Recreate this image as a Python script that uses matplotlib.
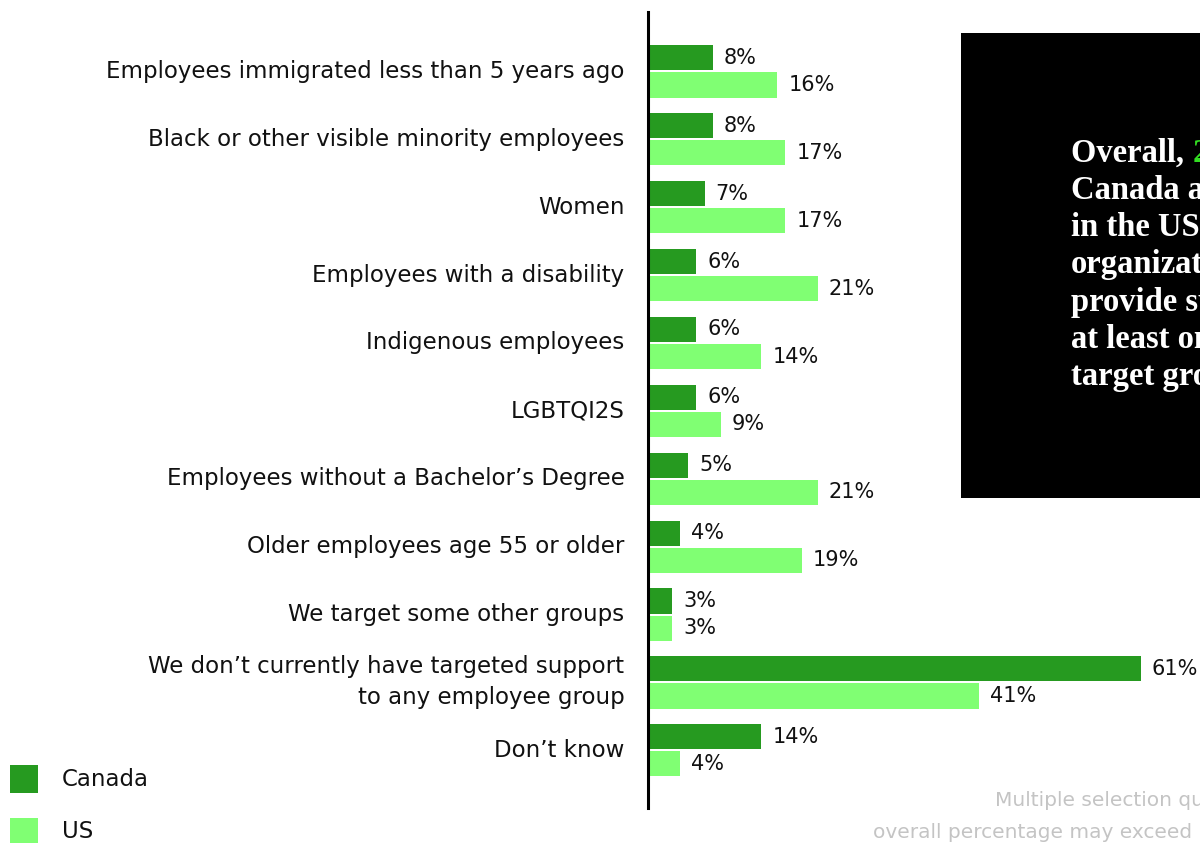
import matplotlib
matplotlib.use("Agg")
import matplotlib.pyplot as plt
from matplotlib.patches import Rectangle

categories = [
    "Employees immigrated less than 5 years ago",
    "Black or other visible minority employees",
    "Women",
    "Employees with a disability",
    "Indigenous employees",
    "LGBTQI2S",
    "Employees without a Bachelor\u2019s Degree",
    "Older employees age 55 or older",
    "We target some other groups",
    "We don\u2019t currently have targeted support\nto any employee group",
    "Don\u2019t know",
]
canada = [8, 8, 7, 6, 6, 6, 5, 4, 3, 61, 14]
us = [16, 17, 17, 21, 14, 9, 21, 19, 3, 41, 4]

CANADA_COLOR = "#269a20"
US_COLOR = "#80ff73"
FONT = "DejaVu Sans"

W, H = 1200, 843
fig = plt.figure(figsize=(W / 100, H / 100), dpi=100)
fig.patch.set_facecolor("white")

# bar axes: zero line at x=648 px, spans to the right edge
ax_left = 648 / W
ax = fig.add_axes([ax_left, 1 - 808 / H, 1 - ax_left, (808 - 12) / H])
ax.set_xlim(0, (W - 648) / 8.08)
ax.set_ylim(10.85, -0.876)

pos = list(range(len(categories)))
off = 0.2
h = 0.37
ax.barh([p - off for p in pos], canada, height=h, color=CANADA_COLOR)
ax.barh([p + off for p in pos], us, height=h, color=US_COLOR)

for p, c, u in zip(pos, canada, us):
    ax.annotate(f"{c}%", (c, p - off), xytext=(8, 0), textcoords="offset points",
                va="center", ha="left", fontsize=15, family=FONT, color="#111111")
    ax.annotate(f"{u}%", (u, p + off), xytext=(8, 0), textcoords="offset points",
                va="center", ha="left", fontsize=15, family=FONT, color="#111111")
    ax.annotate(categories[p], (0, p), xytext=(-17, 0), textcoords="offset points",
                va="center", ha="right", fontsize=16.5, family=FONT, color="#111111",
                linespacing=1.45, annotation_clip=False)

for s in ["top", "right", "bottom"]:
    ax.spines[s].set_visible(False)
ax.spines["left"].set_linewidth(2.2)
ax.spines["left"].set_color("black")
ax.set_xticks([])
ax.set_yticks([])
ax.patch.set_alpha(0)

# black callout box on the right
fig.patches.append(Rectangle((961 / W, 1 - 498 / H), (W - 961 + 50) / W, (498 - 33) / H,
                             transform=fig.transFigure, facecolor="black",
                             edgecolor="none", zorder=0))
box_lines = [
    ("Overall, ", "25%", " of organizations"),
    ("Canada and 44%", None, None),
    ("in the US say their", None, None),
    ("organizations", None, None),
    ("provide support to", None, None),
    ("at least one", None, None),
    ("target group.", None, None),
]
y0 = 153
for i, (a, g, b) in enumerate(box_lines):
    y = 1 - (y0 + i * 37.3) / H
    t = fig.text(1071 / W, y, a, color="white", fontsize=23.5, family="Liberation Serif",
                 weight="bold", va="center", ha="left")
    if g:
        fig.canvas.draw()
        bb = t.get_window_extent()
        fig.text(bb.x1 / W, y, g, color="#33dd22", fontsize=23.5, family="Liberation Serif",
                 weight="bold", va="center", ha="left")

# legend
for j, (lab, col) in enumerate([("Canada", CANADA_COLOR), ("US", US_COLOR)]):
    ytop = 765 + j * 53
    fig.patches.append(Rectangle((10 / W, 1 - (ytop + 28) / H), 28 / W, 28 / H,
                                 transform=fig.transFigure, facecolor=col,
                                 edgecolor="none"))
    fig.text(62 / W, 1 - (ytop + 14) / H, lab, fontsize=16.5, family=FONT,
             color="#111111", va="center", ha="left")

# footnote
fig.text(995 / W, 1 - 801 / H, "Multiple selection question;", fontsize=14.5, family=FONT,
         color="#c4c4c4", va="center", ha="left")
fig.text(873 / W, 1 - 832 / H, "overall percentage may exceed 100%", fontsize=14.5,
         family=FONT, color="#c4c4c4", va="center", ha="left")

fig.savefig("out.png", dpi=100)
